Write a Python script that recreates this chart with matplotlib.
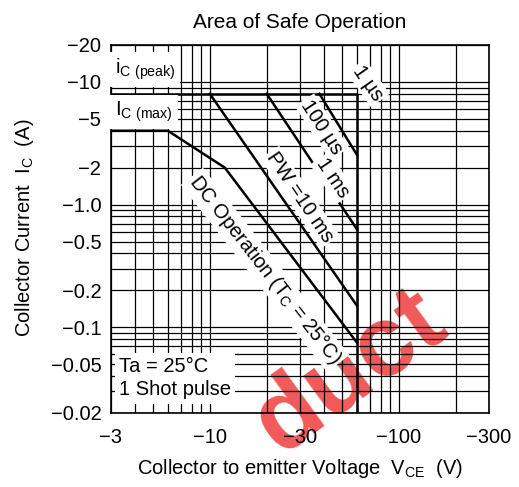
import numpy as np
import matplotlib
matplotlib.use('Agg')
import matplotlib.pyplot as plt

plt.rcParams['font.family'] = ['Liberation Sans', 'DejaVu Sans']
plt.rcParams['mathtext.fontset'] = 'custom'
plt.rcParams['mathtext.rm'] = 'Liberation Sans'

# data (magnitudes, V and A)
x_ticks = [3, 10, 30, 100, 300]
x_ticklabels = ['\u22123', '\u221210', '\u221230', '\u2212100', '\u2212300']
y_ticks = [0.02, 0.05, 0.1, 0.2, 0.5, 1.0, 2, 5, 10, 20]
y_ticklabels = ['\u22120.02', '\u22120.05', '\u22120.1', '\u22120.2', '\u22120.5',
                '\u22121.0', '\u22122', '\u22125', '\u221210', '\u221220']

peak_v = [3, 60, 60]
peak_i = [8, 8, 0.02]
dc_v = [3, 6, 12, 60]
dc_i = [4, 4, 2, 0.075]
pw10ms_v = [10, 60]
pw10ms_i = [8, 0.15]
pw1ms_v = [20, 60]
pw1ms_i = [8, 0.63]
pw100us_v = [38, 60]
pw100us_i = [8, 2.55]

fs = 14.5

fig = plt.figure(figsize=(5.19, 4.87), dpi=100)
ax = fig.add_axes([111 / 519, 74 / 487, 378 / 519, 368 / 487])
ax.patch.set_alpha(0)
ax.set_xscale('log')
ax.set_yscale('log')
ax.set_xlim(3, 300)
ax.set_ylim(0.02, 20)

# grid: log major + minor, all black
ax.grid(True, which='both', color='black', lw=0.9)
ax.set_axisbelow(True)
ax.set_xticks(x_ticks)
ax.set_xticklabels(x_ticklabels, fontsize=fs)
ax.set_yticks(y_ticks)
ax.set_yticklabels(y_ticklabels, fontsize=fs)
ax.tick_params(which='both', length=0)
ax.tick_params(axis='x', pad=11)
ax.tick_params(axis='y', pad=7)
for s in ax.spines.values():
    s.set_linewidth(1.2)

lw = 1.8
ax.plot(peak_v, peak_i, color='black', lw=lw, zorder=3)
ax.plot(dc_v, dc_i, color='black', lw=lw, zorder=3)
ax.plot(pw10ms_v, pw10ms_i, color='black', lw=lw, zorder=3)
ax.plot(pw1ms_v, pw1ms_i, color='black', lw=lw, zorder=3)
ax.plot(pw100us_v, pw100us_i, color='black', lw=lw, zorder=3)

wb = dict(fc='white', ec='none', pad=1.5)
lb = dict(fc='white', ec='none', pad=3.5)
ax.text(3.15, 12.7, r'i$_\mathregular{C\ (peak)}$', fontsize=fs, va='center', bbox=lb, zorder=4)
ax.text(3.15, 5.69, r'I$_\mathregular{C\ (max)}$', fontsize=fs, va='center', bbox=lb, zorder=4)
ax.text(3.3, 0.0385, 'Ta = 25\u00b0C\n1 Shot pulse', fontsize=fs, va='center',
        linespacing=1.3, bbox=dict(fc='white', ec='none', pad=3), zorder=4)

rot = dict(rotation_mode='anchor', ha='center', va='center', fontsize=fs, bbox=wb, zorder=4)
ax.text(68.7, 9.8, '1 \u00b5s', rotation=-55, **rot)
ax.text(39.2, 4.3, '100 \u00b5s', rotation=-57, **rot)
ax.text(44.7, 1.65, '1 ms', rotation=-56, **rot)
ax.text(30, 1.15, 'PW =10 ms', rotation=-56, **rot)
ax.text(19.6, 0.293, 'DC Operation (T$_\\mathregular{C}$ = 25\u00b0C)', rotation=-52, **rot)

ax.set_title('Area of Safe Operation', fontsize=15, pad=12)
fig.text(25 / 519, 1 - 228 / 487, r'Collector Current  I$_\mathregular{C}$  (A)',
         rotation=90, ha='center', va='center', fontsize=fs)
fig.text(300 / 519, 1 - 469 / 487, r'Collector to emitter Voltage  V$_\mathregular{CE}$  (V)',
         ha='center', va='center', fontsize=fs)

# watermark, behind the grid (axes background is transparent)
fig.text(350 / 519, 1 - 372 / 487, 'duct', color='#f03c3c', alpha=0.85, fontsize=72,
         fontweight='bold', rotation=36, ha='center', va='center', zorder=-1)

fig.savefig('out.png', dpi=100)
